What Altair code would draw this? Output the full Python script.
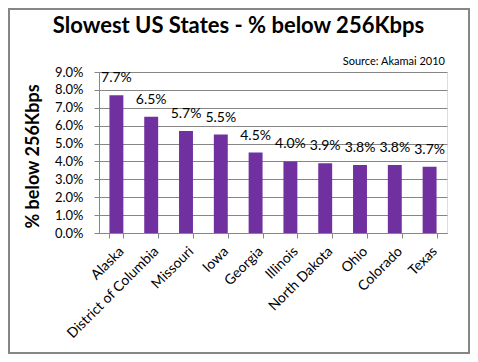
import altair as alt
import pandas as pd

states = ["Alaska", "District of Columbia", "Missouri", "Iowa", "Georgia",
          "Illinois", "North Dakota", "Ohio", "Colorado", "Texas"]
share = [0.077, 0.065, 0.057, 0.055, 0.045, 0.040, 0.039, 0.038, 0.038, 0.037]
y_ticks = [0.00, 0.01, 0.02, 0.03, 0.04, 0.05, 0.06, 0.07, 0.08, 0.09]
title_text = "Slowest US States - % below 256Kbps"
source_text = "Source: Akamai 2010"
y_title = "% below 256Kbps"

df = pd.DataFrame({"state": states, "share": share})

FONT = "Lato"
GREY = "#868686"
PURPLE = "#7030A0"
W, H = 348, 161
PAD_L, PAD_T = 91, 64
TOT_W, TOT_H = 462, 346

x = alt.X("state:N", sort=states, title=None,
          scale=alt.Scale(paddingInner=0.6, paddingOuter=0.3),
          axis=alt.Axis(labelAngle=-45, labelFontSize=14, labelFont=FONT,
                        labelColor="black", tickBand="extent", tickSize=5,
                        tickColor=GREY, domainColor=GREY, labelPadding=6,
                        labelLimit=200, labelOverlap=False))
y = alt.Y("share:Q", title=y_title,
          scale=alt.Scale(domain=[0, 0.09], nice=False),
          axis=alt.Axis(values=y_ticks, format=".1%", labelFontSize=13,
                        labelFont=FONT, labelColor="black", tickSize=5,
                        tickColor=GREY, domainColor=GREY, gridColor=GREY,
                        labelOverlap=False, labelFlush=False,
                        labelPadding=11, titleFont=FONT, titleFontSize=18,
                        titleFontWeight="bold", titleColor="black",
                        titleAngle=-90, titleX=-66, titleY=84,
                        titleAlign="center", titleBaseline="middle"))

base = alt.Chart(df)
bars = base.mark_bar(color=PURPLE).encode(x=x, y=y)
labels = base.mark_text(dy=-10, baseline="bottom", fontSize=14, font=FONT,
                        color="black").encode(
    x=x, y=y,
    text=alt.Text("share:Q", format=".1%"))

one = alt.Data(values=[{"a": 1}])
title = alt.Chart(one).mark_text(fontSize=22, font=FONT, fontWeight="bold",
                                 color="black", baseline="alphabetic",
                                 align="center").encode(
    x=alt.value(139.5), y=alt.value(-39), text=alt.value(title_text))
source = alt.Chart(one).mark_text(fontSize=11, font=FONT, color="black",
                                  baseline="alphabetic", align="right").encode(
    x=alt.value(W - 2), y=alt.value(-7), text=alt.value(source_text))
border = alt.Chart(one).mark_rect(fill=None, stroke=GREY, strokeWidth=2,
                                  clip=False).encode(
    x=alt.value(-PAD_L + 1), x2=alt.value(TOT_W - PAD_L - 1),
    y=alt.value(-PAD_T + 1), y2=alt.value(TOT_H - PAD_T - 1))

chart = alt.layer(bars, labels, title, source, border).properties(
    width=W, height=H,
    autosize=alt.AutoSizeParams(type="none"),
    padding={"left": PAD_L, "top": PAD_T,
             "right": TOT_W - PAD_L - W, "bottom": TOT_H - PAD_T - H},
).configure_view(stroke=GREY, strokeWidth=1).configure(background="white")

chart.save("out.html", embed_options={"renderer": "svg", "actions": False})
